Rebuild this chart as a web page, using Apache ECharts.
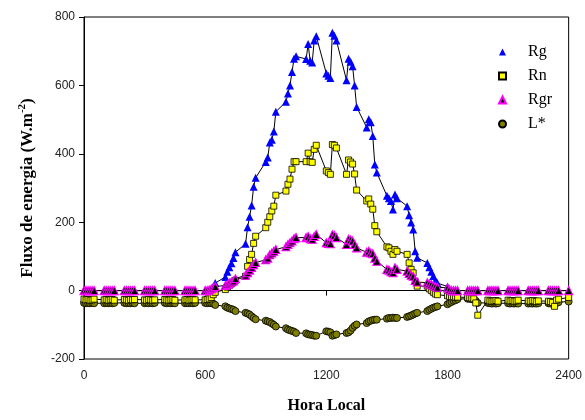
<!DOCTYPE html>
<html>
<head>
<meta charset="utf-8">
<script src="https://cdn.jsdelivr.net/npm/echarts@6/dist/echarts.min.js"></script>
<style>
  html, body { margin: 0; padding: 0; background: #fff; }
  #chart { width: 585px; height: 420px; }
</style>
</head>
<body>
<div id="chart"></div>
<script>
// hora local (HHMM), um ponto a cada 10 minutos
const horas = [
  0, 10, 20, 30, 40, 50,
  100, 110, 120, 130, 140, 150,
  200, 210, 220, 230, 240, 250,
  300, 310, 320, 330, 340, 350,
  400, 410, 420, 430, 440, 450,
  500, 510, 520, 530, 540, 550,
  600, 610, 620, 630, 640, 650,
  700, 710, 720, 730, 740, 750,
  800, 810, 820, 830, 840, 850,
  900, 910, 920, 930, 940, 950,
  1000, 1010, 1020, 1030, 1040, 1050,
  1100, 1110, 1120, 1130, 1140, 1150,
  1200, 1210, 1220, 1230, 1240, 1250,
  1300, 1310, 1320, 1330, 1340, 1350,
  1400, 1410, 1420, 1430, 1440, 1450,
  1500, 1510, 1520, 1530, 1540, 1550,
  1600, 1610, 1620, 1630, 1640, 1650,
  1700, 1710, 1720, 1730, 1740, 1750,
  1800, 1810, 1820, 1830, 1840, 1850,
  1900, 1910, 1920, 1930, 1940, 1950,
  2000, 2010, 2020, 2030, 2040, 2050,
  2100, 2110, 2120, 2130, 2140, 2150,
  2200, 2210, 2220, 2230, 2240, 2250,
  2300, 2310, 2320, 2330, 2340, 2350,
  2400
];

// Rg - radiacao global
const rg = [
  0, 0, 0, 0, 0, 0,
  0, 0, 0, 0, 0, 0,
  0, 0, 0, 0, 0, 0,
  0, 0, 0, 0, 0, 0,
  0, 0, 0, 0, 0, 0,
  0, 0, 0, 0, 0, 0,
  0, 0, 2, 5, 12, 22,
  40, 55, 68, 80, 95, 112,
  137, 185, 216, 249, 304, 330,
  376, 389, 433, 441, 465, 523,
  552, 576, 600, 639, 678, 685,
  677, 721, 672, 667, 731, 744,
  635, 628, 622, 754, 745, 731,
  615, 678, 669, 656, 600, 537,
  477, 501, 492, 452, 369, 345,
  277, 270, 262, 237, 281, 270,
  247, 220, 199, 179, 115, 96,
  81, 68, 55, 43, 30, 22,
  12, 0, 0, 0, 0, 0,
  0, 0, 0, 0, 0, 0,
  0, 0, 0, 0, 0, 0,
  0, 0, 0, 0, 0, 0,
  0, 0, 0, 0, 0, 0,
  0, 0, 0, 0, 0, 0,
  0
];

// Rn - saldo de radiacao
const rn = [
  -25, -27, -26, -28, -27, -25,
  -27, -26, -28, -27, -26, -28,
  -26, -27, -28, -26, -27, -26,
  -27, -28, -26, -27, -28, -27,
  -26, -27, -28, -27, -26, -28,
  -27, -26, -28, -27, -26, -27,
  -27, -26, -24, -20, -12, -5,
  3, 10, 15, 20, 25, 30,
  42, 71, 91, 106, 138, 159,
  184, 200, 216, 233, 247, 279,
  291, 311, 326, 355, 377, 377,
  377, 402, 377, 375, 413, 425,
  350, 345, 340, 427, 425, 417,
  340, 382, 376, 370, 341, 294,
  262, 268, 253, 238, 190, 172,
  128, 125, 115, 106, 120, 115,
  106, 81, 62, 52, 27, 13,
  13, 5, 0, -5, -10, -12,
  -15, -17, -18, -18, -19, -19,
  -20, -21, -22, -24, -36, -72,
  -28, -30, -31, -30, -29, -31,
  -28, -30, -29, -31, -30, -28,
  -30, -31, -29, -30, -32, -30,
  -31, -32, -35, -46, -28, -25,
  -20
];

// Rgr - radiacao refletida
const rgr = [
  0, 0, 0, 0, 0, 0,
  0, 0, 0, 0, 0, 0,
  0, 0, 0, 0, 0, 0,
  0, 0, 0, 0, 0, 0,
  0, 0, 0, 0, 0, 0,
  0, 0, 0, 0, 0, 0,
  0, 0, 2, 5, 8, 12,
  15, 18, 22, 25, 28, 35,
  45, 52, 60, 68, 76, 82,
  90, 95, 105, 110, 115, 120,
  128, 135, 140, 145, 152, 155,
  155, 158, 152, 150, 158, 164,
  140, 138, 137, 163, 161, 155,
  135, 150, 148, 145, 135, 125,
  112, 115, 110, 108, 95, 86,
  62, 60, 55, 52, 67, 62,
  57, 50, 45, 42, 30, 25,
  23, 20, 18, 15, 12, 10,
  8, 3, 0, 0, 0, 0,
  0, 0, 0, 0, 0, 0,
  0, 0, 0, 0, 0, 0,
  0, 0, 0, 0, 0, 0,
  0, 0, 0, 0, 0, 0,
  0, 0, 0, 0, 0, 0,
  0
];

// L* - saldo de ondas longas
const lEstrela = [
  -36, -37, -36, -37, -36, -37,
  -37, -36, -37, -36, -37, -36,
  -36, -37, -36, -37, -36, -37,
  -37, -36, -37, -36, -37, -36,
  -36, -37, -36, -37, -36, -37,
  -37, -36, -37, -36, -37, -36,
  -36, -37, -36, -37, -38, -42,
  -46, -50, -52, -54, -56, -60,
  -65, -67, -70, -75, -80, -84,
  -88, -90, -92, -96, -100, -105,
  -110, -114, -116, -118, -120, -124,
  -125, -128, -129, -130, -132, -132,
  -119, -120, -122, -132, -130, -128,
  -124, -122, -117, -109, -103, -99,
  -95, -90, -88, -86, -85, -85,
  -82, -80, -80, -79, -80, -80,
  -77, -75, -73, -70, -67, -65,
  -60, -56, -53, -50, -48, -46,
  -40, -36, -33, -30, -28, -25,
  -24, -24, -25, -26, -30, -36,
  -36, -37, -38, -37, -38, -37,
  -37, -38, -37, -38, -37, -38,
  -38, -37, -38, -37, -38, -37,
  -37, -38, -37, -38, -36, -34,
  -32
];

const xTicks = [0, 600, 1200, 1800, 2400];
const yTicks = [-200, 0, 200, 400, 600, 800];

const pares = (vals) => horas.map((h, i) => [h, vals[i]]);

const chart = echarts.init(document.getElementById('chart'), null, { renderer: 'canvas' });

const serifFont = '"Liberation Serif", "Times New Roman", serif';
const sansFont = '"Liberation Sans", Arial, sans-serif';

const baseLine = {
  type: 'line',
  showAllSymbol: true,
  lineStyle: { color: '#000', width: 1 },
  emphasis: { disabled: true }
};

const option = {
  animation: false,
  backgroundColor: '#fff',
  grid: {
    left: 84, right: 15, top: 17, bottom: 61,
    show: true, borderColor: '#000', borderWidth: 1, backgroundColor: 'transparent'
  },
  legend: {
    orient: 'vertical',
    left: 493,
    top: 39,
    itemWidth: 7,
    itemHeight: 7,
    itemGap: 8,
    textStyle: { fontFamily: serifFont, fontSize: 16, color: '#000', lineHeight: 16, padding: [0, 0, 0, 17] },
    data: [
      { name: 'Rg', icon: 'triangle' },
      { name: 'Rn', icon: 'rect' },
      { name: 'Rgr', icon: 'triangle' },
      { name: 'L*', icon: 'circle' }
    ]
  },
  xAxis: {
    type: 'value',
    min: xTicks[0],
    max: xTicks[xTicks.length - 1],
    interval: 600,
    name: 'Hora Local',
    nameLocation: 'middle',
    nameGap: 39,
    nameTextStyle: { fontFamily: serifFont, fontWeight: 'bold', fontSize: 16, color: '#000' },
    axisLine: { lineStyle: { color: '#000', width: 1 } },
    axisTick: { length: 5, lineStyle: { color: '#000' } },
    axisLabel: { fontFamily: sansFont, fontSize: 12, color: '#222', margin: 11, formatter: (v) => String(v) },
    splitLine: { show: false }
  },
  yAxis: {
    type: 'value',
    min: yTicks[0],
    max: yTicks[yTicks.length - 1],
    interval: 200,
    name: '{a|Fluxo de energia (W.m}{s|-2}{a|)}',
    nameLocation: 'middle',
    nameGap: 45,
    nameTextStyle: {
      rich: {
        a: { fontFamily: serifFont, fontWeight: 'bold', fontSize: 17, color: '#000', lineHeight: 22 },
        s: { fontFamily: serifFont, fontWeight: 'bold', fontSize: 11, color: '#000', lineHeight: 10, verticalAlign: 'top' }
      }
    },
    axisLine: { show: true, lineStyle: { color: '#000', width: 1 } },
    axisTick: { show: true, length: 5, lineStyle: { color: '#000' } },
    axisLabel: { fontFamily: sansFont, fontSize: 12, color: '#222', margin: 9, formatter: (v) => String(v) },
    splitLine: { show: false }
  },
  series: [
    Object.assign({}, baseLine, {
      name: 'Rg', z: 2,
      symbol: 'triangle', symbolSize: 8,
      itemStyle: { color: '#0000ff' },
      data: pares(rg)
    }),
    Object.assign({}, baseLine, {
      name: 'L*', z: 3,
      symbol: 'circle', symbolSize: 7,
      itemStyle: { color: '#808000', borderColor: '#000', borderWidth: 0.8 },
      data: pares(lEstrela)
    }),
    Object.assign({}, baseLine, {
      name: 'Rn', z: 4,
      symbol: 'rect', symbolSize: 6,
      itemStyle: { color: '#ffff00', borderColor: '#000', borderWidth: 0.8 },
      data: pares(rn)
    }),
    Object.assign({}, baseLine, {
      name: 'Rgr', z: 5,
      symbol: 'triangle', symbolSize: 8,
      itemStyle: { color: '#000', borderColor: '#ff00ff', borderWidth: 1.1 },
      data: pares(rgr)
    })
  ]
};

chart.setOption(option);
</script>
</body>
</html>
